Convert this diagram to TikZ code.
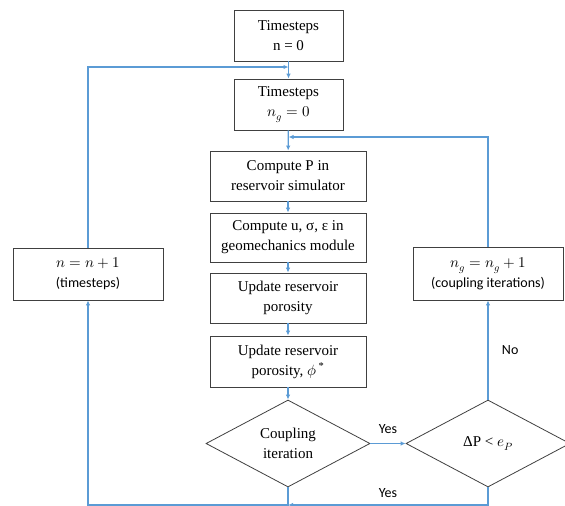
\documentclass[tikz,border=0pt]{standalone}
\usepackage{fontspec}
\usepackage{unicode-math}
\setmainfont{Liberation Serif}
\setmathfont{Latin Modern Math}
\newfontfamily\calfont{Carlito}
\usetikzlibrary{shapes.geometric,arrows.meta}
\definecolor{conn}{HTML}{5B9BD5}
\definecolor{edge}{HTML}{404040}
\tikzset{
  boxnode/.style={draw=edge, line width=0.8pt, fill=white, align=center, inner sep=1pt, font=\fontsize{15}{20}\selectfont},
  decnode/.style={draw=edge, line width=0.8pt, fill=white, diamond, aspect=1.885, minimum width=164pt, minimum height=87pt, inner sep=0pt, align=center, font=\fontsize{15}{20}\selectfont},
  conn/.style={draw=conn, line width=1.3pt, -{Latex[length=5pt,width=4.5pt]}},
  plain/.style={draw=conn, line width=1.3pt},
  lbl/.style={font=\calfont\fontsize{14}{16}\selectfont}
}
\begin{document}
\begin{tikzpicture}[x=1pt,y=-1pt]
\useasboundingbox (0,0) rectangle (565,506);
\node[boxnode, minimum width=109pt, minimum height=51pt] (b1) at (288.5,35.5) {Timesteps\\n = 0};
\node[boxnode, minimum width=109pt, minimum height=51pt] (b2) at (288.5,104.5) {Timesteps\\$n_g = 0$};
\node[boxnode, minimum width=156pt, minimum height=50pt] (b3) at (288,176) {Compute P in\\reservoir simulator};
\node[boxnode, minimum width=156pt, minimum height=49pt] (b4) at (288,237.5) {Compute u, σ, ε in\\geomechanics module};
\node[boxnode, minimum width=156pt, minimum height=50pt] (b5) at (288,298) {Update reservoir\\porosity};
\node[boxnode, minimum width=156pt, minimum height=51pt] (b6) at (288,361.5) {Update reservoir\\porosity, $\phi$\,\textsuperscript{*}};
\node[decnode] (d1) at (288,443.5) {Coupling\\iteration};
\node[decnode] (d2) at (488,443.5) {ΔP < $e_P$};
\node[boxnode, minimum width=150pt, minimum height=52pt] (lb) at (88,274) {$n = n + 1$\\{\calfont\fontsize{14}{18}\selectfont (timesteps)}};
\node[boxnode, minimum width=150pt, minimum height=53pt] (rb) at (488,273.5) {$n_g = n_g + 1$\\{\calfont\fontsize{14}{18}\selectfont (coupling iterations)}};
\coordinate (j1) at (288.5,67);
\coordinate (j2) at (288.5,137);
\coordinate (bl) at (288,505);
\coordinate (br) at (488,505);
\draw[conn] (b1) -- (b2);
\draw[conn] (b2) -- (b3);
\draw[conn] (b3) -- (b4);
\draw[conn] (b4) -- (b5);
\draw[conn] (b5) -- (b6);
\draw[conn] (b6) -- (d1);
\draw[conn] (d1.east) -- node[lbl, above=6pt] {Yes} (d2.west);
\draw[conn] (d2.north) -- node[lbl, right=10pt] {No} (rb.south);
\draw[conn] (rb.north) |- (j2);
\draw[conn] (lb.north) |- (j1);
\draw[conn] (d1.south) -- (bl) -| (lb.south);
\draw[conn] (d2.south) -- (br) -- node[lbl, above=3pt, pos=0.5] {Yes} (bl);
\end{tikzpicture}
\end{document}
